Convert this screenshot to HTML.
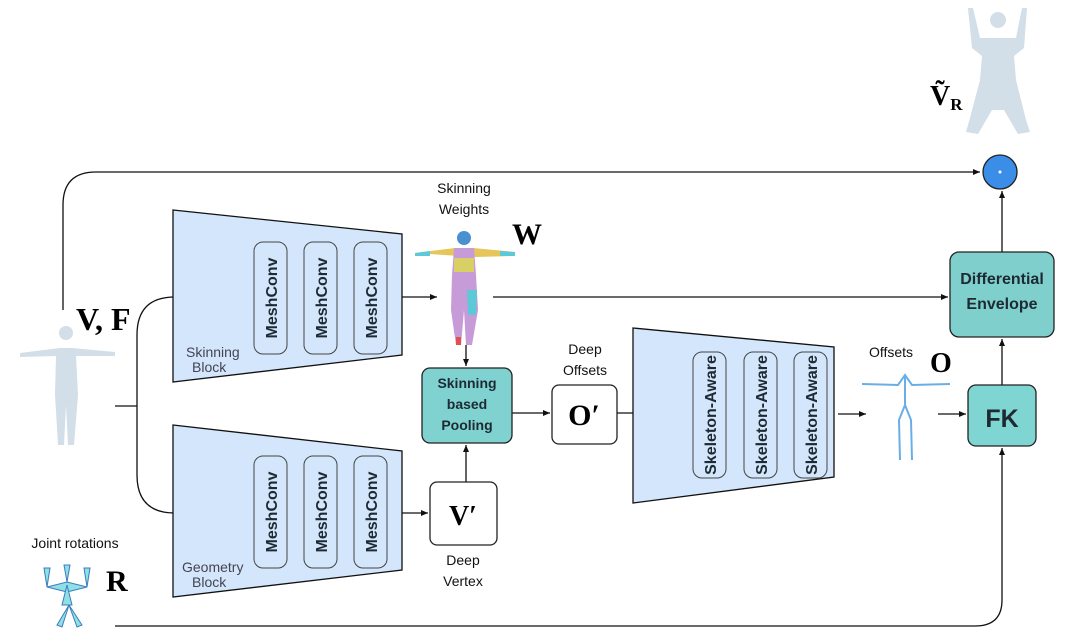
<!DOCTYPE html>
<html><head><meta charset="utf-8"><style>
html,body{margin:0;padding:0;background:#fff;}
svg{display:block;}
.lbl{font-family:"Liberation Sans",sans-serif;font-size:14px;fill:#111;}
.cond{font-family:"Liberation Sans Narrow","Liberation Sans",sans-serif;font-weight:bold;fill:#1d2a33;}
.ser{font-family:"Liberation Serif",serif;font-weight:bold;fill:#000;}
</style></head><body>
<svg width="1080" height="633" viewBox="0 0 1080 633" xmlns="http://www.w3.org/2000/svg">
<defs><marker id="a" markerWidth="8" markerHeight="8" refX="7" refY="4" orient="auto" markerUnits="userSpaceOnUse"><path d="M0,1 L7,4 L0,7 z" fill="#111"/></marker></defs>
<g fill="none" stroke="#111" stroke-width="1.3">
<path d="M63,310 L63,205 Q63,172 96,172 L980,172" marker-end="url(#a)"/>
<path d="M115,406 L137,406"/>
<path d="M245,297 L175,297 Q137,297 137,335 L137,475 Q137,513 175,513 L245,513" marker-end="url(#a)"/>
<path d="M287,297 L302,297" marker-end="url(#a)"/><path d="M337,297 L352,297" marker-end="url(#a)"/>
<path d="M287,513 L302,513" marker-end="url(#a)"/><path d="M337,513 L352,513" marker-end="url(#a)"/>
<path d="M387,297 L437,297" marker-end="url(#a)"/>
<path d="M387,513 L428,513" marker-end="url(#a)"/>
<path d="M493,297 L948,297" marker-end="url(#a)"/>
<path d="M466,345 L466,366" marker-end="url(#a)"/>
<path d="M466,482 L466,445" marker-end="url(#a)"/>
<path d="M512,413 L550,413" marker-end="url(#a)"/>
<path d="M617,413 L691,413" marker-end="url(#a)"/>
<path d="M726,413 L742,413" marker-end="url(#a)"/><path d="M777,413 L792,413" marker-end="url(#a)"/>
<path d="M838,414 L866,414" marker-end="url(#a)"/>
<path d="M938,414 L966,414" marker-end="url(#a)"/>
<path d="M1002,385 L1002,339" marker-end="url(#a)"/>
<path d="M1002,252 L1002,191" marker-end="url(#a)"/>
<path d="M115,626 L975,626 Q1002,626 1002,600 L1002,448" marker-end="url(#a)"/>
</g>
<g stroke="#111" stroke-width="1.3" fill="#d3e6fb">
<path d="M173,210 L402,234 L402,355 L173,382 Z"/>
<path d="M173,425 L402,451 L402,570 L173,597 Z"/>
<path d="M633,328 L834,347 L834,477 L633,503 Z"/>
</g>
<g fill="none" stroke="#444" stroke-width="1">
<rect x="254" y="242" width="33" height="112" rx="9"/><rect x="304" y="242" width="33" height="112" rx="9"/><rect x="354" y="242" width="33" height="112" rx="9"/>
<rect x="254" y="456" width="33" height="112" rx="9"/><rect x="304" y="456" width="33" height="112" rx="9"/><rect x="354" y="456" width="33" height="112" rx="9"/>
<rect x="693" y="352" width="33" height="126" rx="9"/><rect x="744" y="352" width="33" height="126" rx="9"/><rect x="794" y="352" width="33" height="126" rx="9"/>
</g>
<g class="cond" font-size="16">
<text transform="translate(277,298) rotate(-90)" text-anchor="middle">MeshConv</text>
<text transform="translate(327,298) rotate(-90)" text-anchor="middle">MeshConv</text>
<text transform="translate(377,298) rotate(-90)" text-anchor="middle">MeshConv</text>
<text transform="translate(277,512) rotate(-90)" text-anchor="middle">MeshConv</text>
<text transform="translate(327,512) rotate(-90)" text-anchor="middle">MeshConv</text>
<text transform="translate(377,512) rotate(-90)" text-anchor="middle">MeshConv</text>
<text transform="translate(716,415) rotate(-90)" text-anchor="middle">Skeleton-Aware</text>
<text transform="translate(767,415) rotate(-90)" text-anchor="middle">Skeleton-Aware</text>
<text transform="translate(817,415) rotate(-90)" text-anchor="middle">Skeleton-Aware</text>
</g>
<g class="lbl" font-size="12" style="fill:#445"><text x="186" y="357">Skinning</text><text x="192" y="372">Block</text>
<text x="182" y="572">Geometry</text><text x="192" y="587">Block</text></g>
<rect x="422" y="368" width="90" height="75" rx="8" fill="#7fd2cf" stroke="#222" stroke-width="1.3"/>
<g class="cond" font-size="14" text-anchor="middle"><text x="467" y="388">Skinning</text><text x="467" y="409">based</text><text x="467" y="430">Pooling</text></g>
<rect x="552" y="385" width="65" height="59" rx="7" fill="#fff" stroke="#222" stroke-width="1.3"/>
<text class="ser" x="584" y="425" font-size="30" text-anchor="middle">O′</text>
<rect x="430" y="482" width="67" height="63" rx="7" fill="#fff" stroke="#222" stroke-width="1.3"/>
<text class="ser" x="463" y="525" font-size="28" text-anchor="middle">V′</text>
<rect x="950" y="252" width="104" height="85" rx="9" fill="#7fcfcc" stroke="#222" stroke-width="1.3"/>
<g class="cond" font-size="16" text-anchor="middle"><text x="1002" y="284">Differential</text><text x="1002" y="309">Envelope</text></g>
<rect x="968" y="385" width="68" height="61" rx="8" fill="#7fd5d2" stroke="#222" stroke-width="1.3"/>
<text class="cond" x="1002" y="427" font-size="25" text-anchor="middle">FK</text>
<circle cx="1000" cy="172" r="17" fill="#3b8ee8" stroke="#222" stroke-width="1.3"/><circle cx="1000" cy="172" r="1.5" fill="#fff"/>
<g class="lbl" text-anchor="middle"><text x="464" y="193">Skinning</text><text x="464" y="214">Weights</text>
<text x="585" y="354">Deep</text><text x="585" y="375">Offsets</text>
<text x="463" y="565">Deep</text><text x="463" y="586">Vertex</text>
<text x="891" y="357">Offsets</text><text x="75" y="548">Joint rotations</text></g>
<text class="ser" x="512" y="244" font-size="30">W</text>
<text class="ser" x="930" y="372" font-size="28">O</text>
<text class="ser" x="76" y="330" font-size="32">V, F</text>
<text class="ser" x="106" y="591" font-size="30">R</text>
<text class="ser" x="930" y="105" font-size="28">Ṽ<tspan font-size="17" dy="5">R</tspan></text>
<g fill="#d2dee8">
<circle cx="66" cy="333" r="7"/><path d="M20,353 L60,348 L72,348 L115,352 L115,356 L76,356 L78,395 L74,445 L68,445 L66,405 L64,445 L58,445 L55,395 L56,356 L20,357 Z"/>
<circle cx="998" cy="20" r="8"/><path d="M968,8 L973,8 L980,38 L1016,38 L1022,8 L1027,8 L1024,48 L1014,56 L1016,80 L1026,120 L1030,132 L1018,134 L1004,110 L992,110 L978,134 L966,132 L970,118 L980,80 L982,56 L972,48 Z"/>
</g>
<g>
<circle cx="464" cy="238" r="7" fill="#4a8fd0"/>
<path d="M415,253 L455,248 L473,248 L515,252 L515,256 L474,257 Z" fill="#e6c55a"/>
<path d="M415,253 L430,251 L430,256 L415,256 Z" fill="#5cc8d8"/><path d="M500,251 L515,252 L515,256 L500,256 Z" fill="#5cc8d8"/>
<path d="M454,248 L474,248 L476,275 L478,310 L472,345 L466,345 L464,310 L461,345 L456,345 L451,310 L452,275 Z" fill="#c79ad8"/>
<path d="M454,258 L474,258 L474,272 L454,272 Z" fill="#d8d065"/>
<path d="M467,290 L477,290 L476,315 L468,315 Z" fill="#5cc8d8"/>
<path d="M456,337 L461,337 L461,345 L456,345 Z" fill="#e05050"/>
</g>
<g fill="none" stroke="#6aaee6" stroke-width="2">
<path d="M862,384 L898,385 L905,375 L912,385 L950,384"/><path d="M905,375 L905,405 L899,420 L900,460 M905,405 L911,420 L912,460"/>
</g>
<g stroke="#3c7cc0" stroke-width="1" fill="#8ee0e4">
<path d="M47,587 L67,582 L87,587 L67,592 Z"/><path d="M47,587 L44,568 L50,568 Z"/><path d="M87,587 L84,568 L90,568 Z"/><path d="M67,582 L64,565 L70,565 Z"/>
<path d="M67,585 L72,605 L62,605 Z"/><path d="M69,605 L82,625 L77,627 Z"/><path d="M69,605 L57,625 L62,627 Z"/>
</g>
</svg>
</body></html>
